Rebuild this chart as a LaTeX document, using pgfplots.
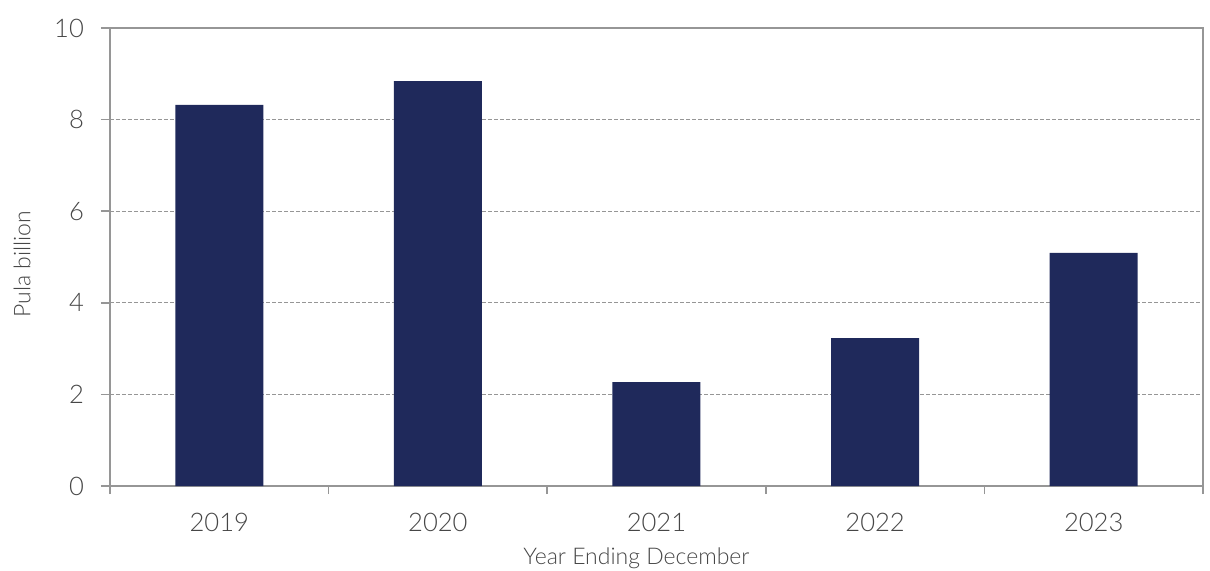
\documentclass[border=0pt]{standalone}
\usepackage{fontspec}
\setmainfont{Lato}[UprightFont={* Light}]
\usepackage{pgfplots}
\pgfplotsset{compat=1.18}
\definecolor{barblue}{RGB}{31,41,91}
\definecolor{axgray}{RGB}{150,150,150}
\definecolor{txt}{RGB}{70,70,70}
\begin{document}
\begin{tikzpicture}
\begin{axis}[
  scale only axis,
  width=546.5pt, height=229pt,
  xmin=-0.5, xmax=4.5, ymin=0, ymax=10,
  xtick={0,1,2,3,4},
  xticklabels={2019,2020,2021,2022,2023},
  minor xtick={-0.5,0.5,1.5,2.5,3.5,4.5},
  ytick={0,2,4,6,8,10},
  tick align=outside,
  major x tick style={draw=none},
  minor tick length=4pt,
  major tick length=4.5pt,
  tick style={axgray, line width=0.8pt},
  axis line style={axgray, line width=0.8pt},
  ymajorgrids,
  grid style={axgray, dash pattern=on 2pt off 1pt, line width=0.5pt},
  xtick pos=bottom, ytick pos=left,
  tick label style={font=\fontsize{12.8}{14}\selectfont, text=txt},
  /pgf/number format/assume math mode=true,
  xticklabel style={yshift=-5.5pt},
  yticklabel style={xshift=-5pt},
  ylabel={Pula billion},
  xlabel={Year Ending December},
  label style={font=\fontsize{11.5}{14}\selectfont, text=txt},
  ylabel style={at={(axis description cs:0,0.5)}, anchor=center, yshift=44pt, xshift=-3.5pt},
  xlabel style={at={(axis description cs:0.5,0)}, anchor=center, yshift=-36pt, xshift=-10pt},
]
\addplot[ybar, bar width=44pt, fill=barblue, draw=none] coordinates {
  (0,8.32) (1,8.84) (2,2.27) (3,3.23) (4,5.09)
};
\end{axis}
\pgfresetboundingbox
\path[use as bounding box] (-55pt,-42pt) rectangle (550pt,243pt);
\end{tikzpicture}
\end{document}
